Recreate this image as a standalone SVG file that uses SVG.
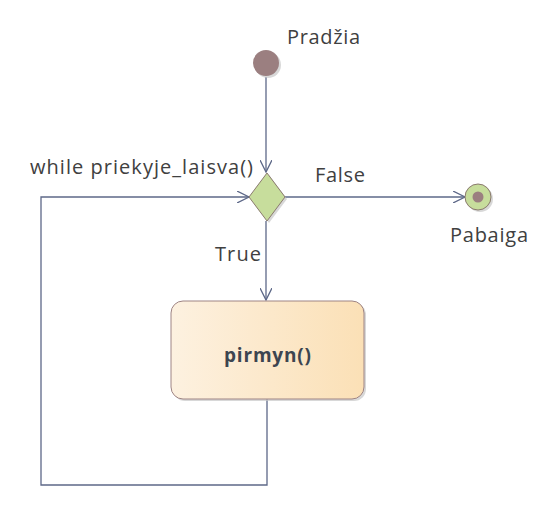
<svg xmlns="http://www.w3.org/2000/svg" width="559" height="508" viewBox="0 0 559 508">
<style>
.t{font-family:"Open Sans","Liberation Sans",Arial,sans-serif;font-size:20px;fill:#404040}
.b{font-weight:bold;fill:#3d4550;font-size:19px}
.c{fill:none;stroke:#5d6888;stroke-width:1.3}
.sh{fill:#c8c8c8;opacity:0.7}
</style>
<defs>
<marker id="a" markerWidth="14" markerHeight="12" refX="12" refY="6" orient="auto" markerUnits="userSpaceOnUse">
<path d="M0,0 L12,6 L0,12" fill="none" stroke="#5d6888" stroke-width="1.3"/>
</marker>
<linearGradient id="g" x1="0" y1="0" x2="1" y2="0">
<stop offset="0" stop-color="#fdf1e0"/>
<stop offset="1" stop-color="#fbe0b6"/>
</linearGradient>
</defs>
<g id="connectors">
<path class="c" d="M266,77 L266,172" marker-end="url(#a)"/>
<path class="c" d="M285,197 L465,197" marker-end="url(#a)"/>
<path class="c" d="M266,221 L266,300" marker-end="url(#a)"/>
<path class="c" d="M267,399 L267,485 L41,485 L41,197 L249,197" marker-end="url(#a)"/>
</g>
<g id="start">
<circle class="sh" cx="268" cy="65" r="13"/>
<circle cx="266" cy="63" r="13" fill="#9b7f80"/>
<text class="t" x="287" y="44" textLength="73">Pradžia</text>
</g>
<g id="decision">
<path class="sh" d="M269,175 L287,199 L269,223 L251,199 Z"/>
<path d="M267,173 L285,197 L267,221 L249,197 Z" fill="#c7dd9c" stroke="#8a7a6e" stroke-width="1"/>
<text class="t" x="30" y="174" textLength="223">while priekyje_laisva()</text>
<text class="t" x="315" y="182" textLength="50">False</text>
<text class="t" x="215" y="261" textLength="46">True</text>
</g>
<g id="action">
<rect class="sh" x="173" y="303" width="193" height="98" rx="12"/>
<rect x="171" y="301" width="193" height="98" rx="12" fill="url(#g)" stroke="#9e8484" stroke-width="1"/>
<text class="t b" x="224" y="362" textLength="87">pirmyn()</text>
</g>
<g id="end">
<circle class="sh" cx="480" cy="199" r="13"/>
<circle cx="478" cy="197" r="13" fill="#c7dd9c" stroke="#8a7a6e" stroke-width="1"/>
<circle cx="478" cy="197" r="5.5" fill="#9b7f80"/>
<text class="t" x="450" y="242" textLength="78">Pabaiga</text>
</g>
</svg>
